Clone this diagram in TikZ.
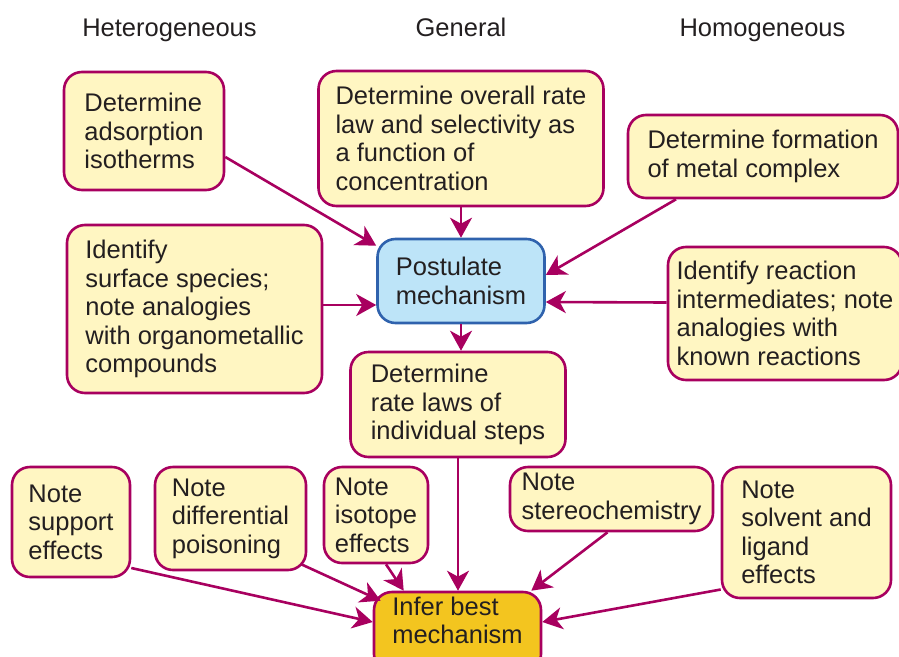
\documentclass[tikz,border=0pt]{standalone}
\usepackage{fontspec}
\setmainfont{Liberation Sans}
\usetikzlibrary{arrows.meta}
\definecolor{kline}{HTML}{A8005F}
\definecolor{kyellow}{HTML}{FFF6C2}
\definecolor{kblue}{HTML}{2F62AD}
\definecolor{klightblue}{HTML}{BDE4F8}
\definecolor{korange}{HTML}{F3C51F}
\definecolor{ktext}{HTML}{231F20}
\tikzset{
  box/.style={draw=kline, line width=2.6pt, rounded corners=18pt, align=left, inner sep=0pt, text=ktext, font=\fontsize{25.5}{28.5}\selectfont},
  kstep/.style={box, fill=kyellow},
  kcore/.style={box, draw=kblue, fill=klightblue},
  kfinal/.style={box, fill=korange},
  khead/.style={anchor=base, text=ktext, font=\fontsize{25.5}{28.5}\selectfont},
  flow/.style={-{Stealth[length=20pt, width=22pt, inset=6pt]}, line width=2.6pt, draw=kline},
}

\begin{document}
\begin{tikzpicture}[x=1pt, y=-1pt]
    \clip (0,0) rectangle (899,656);
    % column heads
    \node[khead] (hetero) at (169.5,36) {Heterogeneous};
    \node[khead] (general) at (461,36) {General};
    \node[khead] (homo) at (762.5,36) {Homogeneous};
    % upper boxes
    \node[kstep, minimum width=160pt, minimum height=118pt] (adsorb) at (144,131) {Determine\\adsorption\\isotherms};
    \node[kstep, minimum width=285pt, minimum height=135pt] (overall) at (461,138.5) {Determine overall rate\\law and selectivity as\\a function of\\concentration};
    \node[kstep, minimum width=270pt, minimum height=83pt] (complex) at (763,156.5) {Determine formation\\of metal complex};
    \node[kstep, minimum width=255pt, minimum height=168pt] (surface) at (194.5,309) {Identify\\surface species;\\note analogies\\with organometallic\\compounds};
    \node[kcore, minimum width=167pt, minimum height=84pt] (postulate) at (461,281) {Postulate\\mechanism};
    \node[kstep, minimum width=234pt, minimum height=133pt] (intermed) at (785,313.5) {Identify reaction\\intermediates; note\\analogies with\\known reactions};
    \node[kstep, minimum width=215pt, minimum height=105pt] (ratelaws) at (458,404.5) {Determine\\rate laws of\\individual steps};
    % lower boxes
    \node[kstep, minimum width=118pt, minimum height=110pt] (support) at (71,522) {Note\\support\\effects};
    \node[kstep, minimum width=151pt, minimum height=103pt] (poison) at (230.5,518.5) {Note\\differential\\poisoning};
    \node[kstep, minimum width=104pt, minimum height=96pt] (isotope) at (376,515) {Note\\isotope\\effects};
    \node[kstep, minimum width=203pt, minimum height=64pt] (stereo) at (611.5,499) {Note\\stereochemistry};
    \node[kstep, minimum width=169pt, minimum height=131pt] (solvent) at (806.5,532.5) {Note\\solvent and\\ligand\\effects};
    \node[kfinal, minimum width=167pt, minimum height=80pt, text depth=23pt] (infer) at (457.5,632) {Infer best\\mechanism};
    % into postulate
    \draw[flow] ([yshift=-26pt]adsorb.east) -- ([yshift=-8pt]postulate.north west);
    \draw[flow] (overall.south) -- (postulate.north);
    \draw[flow] ([xshift=-87pt]complex.south) -- ([yshift=6pt]postulate.east);
    \draw[flow] ([yshift=4pt]surface.east) -- ([yshift=-24pt]postulate.west);
    \draw[flow] ([yshift=11pt]intermed.west) -- ([yshift=-21pt]postulate.east);
    \draw[flow] (postulate.south) -- (postulate.south |- ratelaws.north);
    % into infer
    \draw[flow] (ratelaws.south) -- (ratelaws.south |- infer.north);
    \draw[flow] ([yshift=-46pt]support.east) -- ([yshift=10pt]infer.west);
    \draw[flow] ([xshift=-6pt, yshift=7pt]poison.south east) -- ([xshift=8pt, yshift=-10pt]infer.north west);
    \draw[flow] ([xshift=10pt]isotope.south) -- ([xshift=31pt]infer.north west);
    \draw[flow] ([xshift=-4pt]stereo.south) -- ([xshift=-11pt]infer.north east);
    \draw[flow] ([yshift=-57pt]solvent.west) -- ([yshift=10pt]infer.east);
  \end{tikzpicture}
\end{document}
